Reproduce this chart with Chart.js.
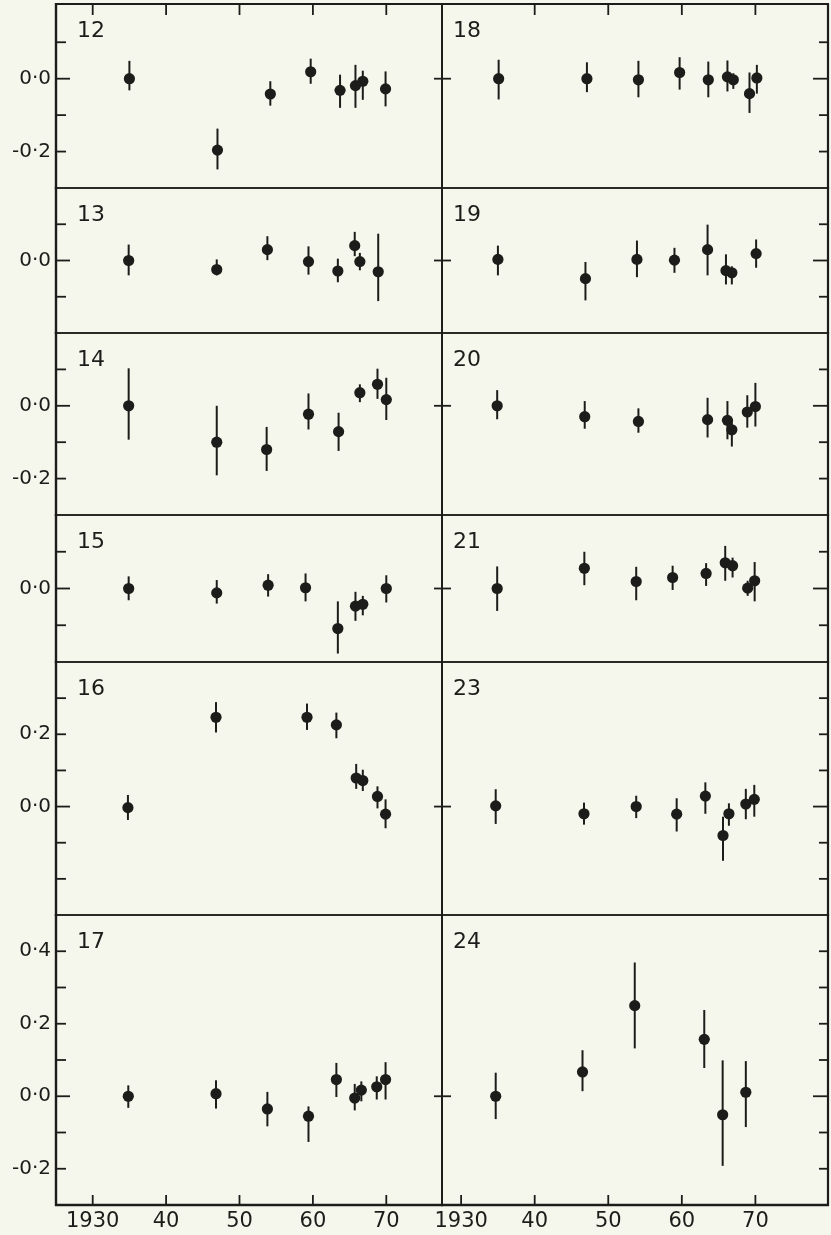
<!DOCTYPE html>
<html>
<head>
<meta charset="utf-8">
<script src="https://cdn.jsdelivr.net/npm/chart.js@4.4.1/dist/chart.umd.min.js"></script>
<style>
  html, body { margin: 0; padding: 0; background: #f6f7ec; }
  #fig { position: relative; width: 831px; height: 1235px; overflow: hidden; background: #f6f7ec; }
  #fig canvas { position: absolute; }
</style>
</head>
<body>
<div id="fig"></div>
<script>
// Epoch (year), offset and lower / upper error limit of each measurement, one set per line.
const yr12 = [1935.0, 1947.0, 1954.2, 1959.7, 1963.7, 1965.8, 1966.8, 1969.9];
const v12  = [0.000, -0.196, -0.042, 0.019, -0.032, -0.019, -0.007, -0.028];
const lo12 = [-0.032, -0.249, -0.074, -0.014, -0.080, -0.080, -0.058, -0.076];
const hi12 = [0.049, -0.137, -0.007, 0.055, 0.011, 0.038, 0.022, 0.020];

const yr13 = [1934.9, 1946.9, 1953.8, 1959.4, 1963.4, 1965.7, 1966.4, 1968.9];
const v13  = [0.000, -0.025, 0.030, -0.003, -0.029, 0.041, -0.003, -0.031];
const lo13 = [-0.041, -0.041, 0.001, -0.039, -0.060, 0.012, -0.027, -0.112];
const hi13 = [0.044, 0.003, 0.067, 0.039, 0.005, 0.079, 0.021, 0.074];

const yr14 = [1934.9, 1946.9, 1953.7, 1959.4, 1963.5, 1966.4, 1968.8, 1970.0];
const v14  = [0.000, -0.100, -0.120, -0.023, -0.071, 0.036, 0.059, 0.017];
const lo14 = [-0.093, -0.191, -0.179, -0.065, -0.124, 0.010, 0.019, -0.039];
const hi14 = [0.103, 0.000, -0.058, 0.034, -0.019, 0.059, 0.102, 0.077];

const yr15 = [1934.9, 1946.9, 1953.9, 1959.0, 1963.4, 1965.8, 1966.8, 1970.0];
const v15  = [0.000, -0.012, 0.009, 0.002, -0.109, -0.048, -0.043, 0.000];
const lo15 = [-0.032, -0.041, -0.022, -0.035, -0.177, -0.088, -0.073, -0.038];
const hi15 = [0.033, 0.023, 0.039, 0.041, -0.035, -0.009, -0.020, 0.036];

const yr16 = [1934.8, 1946.8, 1959.2, 1963.2, 1965.9, 1966.8, 1968.8, 1969.9];
const v16  = [-0.003, 0.247, 0.247, 0.226, 0.079, 0.072, 0.028, -0.021];
const lo16 = [-0.037, 0.205, 0.212, 0.189, 0.049, 0.043, -0.005, -0.060];
const hi16 = [0.032, 0.289, 0.285, 0.260, 0.118, 0.102, 0.056, 0.020];

const yr17 = [1934.85, 1946.8, 1953.8, 1959.4, 1963.2, 1965.7, 1966.6, 1968.7, 1969.9];
const v17  = [0.000, 0.007, -0.035, -0.055, 0.046, -0.005, 0.017, 0.026, 0.046];
const lo17 = [-0.032, -0.034, -0.083, -0.126, -0.002, -0.039, -0.014, -0.009, -0.009];
const hi17 = [0.030, 0.044, 0.012, -0.028, 0.092, 0.034, 0.041, 0.055, 0.094];

const yr18 = [1935.1, 1947.1, 1954.1, 1959.7, 1963.6, 1966.2, 1967.0, 1969.2, 1970.2];
const v18  = [0.000, 0.000, -0.003, 0.017, -0.003, 0.005, -0.003, -0.041, 0.002];
const lo18 = [-0.057, -0.037, -0.051, -0.030, -0.051, -0.035, -0.028, -0.094, -0.041];
const hi18 = [0.052, 0.045, 0.049, 0.059, 0.047, 0.050, 0.015, 0.017, 0.038];

const yr19 = [1935.0, 1946.9, 1953.9, 1959.0, 1963.5, 1966.0, 1966.8, 1970.1];
const v19  = [0.003, -0.050, 0.003, 0.001, 0.030, -0.028, -0.034, 0.019];
const lo19 = [-0.041, -0.110, -0.046, -0.034, -0.041, -0.066, -0.066, -0.020];
const hi19 = [0.041, -0.004, 0.055, 0.035, 0.099, 0.017, -0.016, 0.058];

const yr20 = [1934.9, 1946.8, 1954.1, 1963.5, 1966.2, 1966.8, 1968.9, 1970.0];
const v20  = [0.000, -0.030, -0.043, -0.038, -0.040, -0.066, -0.017, -0.002];
const lo20 = [-0.037, -0.063, -0.074, -0.087, -0.092, -0.112, -0.060, -0.057];
const hi20 = [0.043, 0.013, -0.007, 0.022, 0.013, -0.037, 0.029, 0.063];

const yr21 = [1934.9, 1946.75, 1953.8, 1958.75, 1963.3, 1965.9, 1966.9, 1968.95, 1969.9];
const v21  = [0.000, 0.055, 0.019, 0.030, 0.041, 0.070, 0.062, 0.001, 0.021];
const lo21 = [-0.061, 0.009, -0.032, -0.004, 0.007, 0.021, 0.030, -0.020, -0.035];
const hi21 = [0.060, 0.100, 0.059, 0.062, 0.069, 0.116, 0.084, 0.021, 0.072];

const yr23 = [1934.7, 1946.7, 1953.8, 1959.3, 1963.2, 1965.6, 1966.4, 1968.7, 1969.85];
const v23  = [0.002, -0.020, 0.000, -0.021, 0.029, -0.080, -0.020, 0.007, 0.020];
const lo23 = [-0.048, -0.050, -0.032, -0.069, -0.020, -0.150, -0.053, -0.035, -0.028];
const hi23 = [0.048, 0.011, 0.030, 0.023, 0.067, -0.028, 0.009, 0.049, 0.060];

const yr24 = [1934.7, 1946.5, 1953.6, 1963.05, 1965.55, 1968.7];
const v24  = [0.000, 0.067, 0.250, 0.157, -0.051, 0.011];
const lo24 = [-0.063, 0.014, 0.132, 0.078, -0.192, -0.085];
const hi24 = [0.065, 0.127, 0.369, 0.238, 0.099, 0.097];

// Axis ticks and ranges
const xTickYears = [1930, 1940, 1950, 1960, 1970];
const xTickText  = ['1930', '40', '50', '60', '70'];
const yTickValues = [-0.3, -0.2, -0.1, 0, 0.1, 0.2, 0.3, 0.4, 0.5];
const rowMin = [-0.3, -0.2, -0.3, -0.2, -0.3, -0.3];
const rowMax = [0.205, 0.2, 0.2, 0.2, 0.4, 0.5];
const rowLabelled = [[0, -0.2], [0], [0, -0.2], [0], [0.2, 0], [0.4, 0.2, 0, -0.2]];
const colMin = [1925, 1927.4];
const colMax = [1977.59, 1979.87];

// Page layout (pixels): horizontal panel edges and column edges
const rowEdge = [4, 188, 333, 515, 662, 915, 1205];
const colEdge = [56, 442, 828];
const M = 20;          // spare canvas margin around each plot area
const AXIS_H = 30;     // height kept for the year labels under the bottom row

const ink = '#1c1c1a';
const fontFamily = '"DejaVu Sans", sans-serif';

const panels = [
  { id: '12', col: 0, row: 0, yr: yr12, v: v12, lo: lo12, hi: hi12 },
  { id: '13', col: 0, row: 1, yr: yr13, v: v13, lo: lo13, hi: hi13 },
  { id: '14', col: 0, row: 2, yr: yr14, v: v14, lo: lo14, hi: hi14 },
  { id: '15', col: 0, row: 3, yr: yr15, v: v15, lo: lo15, hi: hi15 },
  { id: '16', col: 0, row: 4, yr: yr16, v: v16, lo: lo16, hi: hi16 },
  { id: '17', col: 0, row: 5, yr: yr17, v: v17, lo: lo17, hi: hi17 },
  { id: '18', col: 1, row: 0, yr: yr18, v: v18, lo: lo18, hi: hi18 },
  { id: '19', col: 1, row: 1, yr: yr19, v: v19, lo: lo19, hi: hi19 },
  { id: '20', col: 1, row: 2, yr: yr20, v: v20, lo: lo20, hi: hi20 },
  { id: '21', col: 1, row: 3, yr: yr21, v: v21, lo: lo21, hi: hi21 },
  { id: '23', col: 1, row: 4, yr: yr23, v: v23, lo: lo23, hi: hi23 },
  { id: '24', col: 1, row: 5, yr: yr24, v: v24, lo: lo24, hi: hi24 }
];

function fmtTick(v) {
  const s = Math.abs(v).toFixed(1).replace('.', '\u00B7');
  return (v < -1e-9 ? '-' : '') + s;
}

// Frame, inward tick marks, error bars and the panel number
function framePlugin(p) {
  const min = rowMin[p.row], max = rowMax[p.row];
  const inner = yTickValues.filter(v => v > min + 0.01 && v < max - 0.01);
  return {
    id: 'frame' + p.id,
    beforeDatasetsDraw(chart) {
      const { ctx, chartArea: a, scales: { x, y } } = chart;
      ctx.save();
      ctx.strokeStyle = ink;
      ctx.lineCap = 'butt';
      const line = (x1, y1, x2, y2, w) => {
        ctx.lineWidth = w;
        ctx.beginPath();
        ctx.moveTo(x1, y1);
        ctx.lineTo(x2, y2);
        ctx.stroke();
      };
      const outerL = p.col === 0, outerR = p.col === 1;
      const outerT = p.row === 0, outerB = p.row === 5;
      line(a.left, a.top - 1, a.left, a.bottom + 1, outerL ? 2.4 : 1.8);
      line(a.right, a.top - 1, a.right, a.bottom + 1, outerR ? 2.2 : 1.8);
      line(a.left - 1, a.top, a.right + 1, a.top, outerT ? 2.2 : 1.6);
      line(a.left - 1, a.bottom, a.right + 1, a.bottom, outerB ? 2.4 : 1.6);

      inner.forEach(v => {
        const py = y.getPixelForValue(v);
        const zero = Math.abs(v) < 1e-9;
        if (p.col === 0) {
          line(a.left, py, a.left + (zero ? 14 : 10), py, 1.8);
          if (zero) line(a.right - 8, py, a.right, py, 1.8);
        } else {
          line(a.right - (zero ? 15 : 9), py, a.right, py, 1.8);
          if (zero) line(a.left, py, a.left + 9, py, 1.8);
        }
      });

      if (outerT || outerB) {
        xTickYears.forEach(t => {
          const px = x.getPixelForValue(t);
          if (outerT && !(p.col === 1 && t === xTickYears[0])) line(px, a.top, px, a.top + 11, 1.8);
          if (outerB) line(px, a.bottom, px, a.bottom - 10, 1.8);
        });
      }

      p.yr.forEach((t, i) => {
        const px = x.getPixelForValue(t);
        line(px, y.getPixelForValue(p.hi[i]), px, y.getPixelForValue(p.lo[i]), 2);
      });
      ctx.restore();
    },
    afterDraw(chart) {
      const { ctx, chartArea: a } = chart;
      ctx.save();
      ctx.fillStyle = ink;
      ctx.font = '22px ' + fontFamily;
      ctx.textAlign = 'left';
      ctx.textBaseline = 'alphabetic';
      ctx.fillText(p.id, a.left + (p.col === 0 ? 21 : 11), a.top + 33);
      ctx.restore();
    }
  };
}

const fig = document.getElementById('fig');

panels.forEach(p => {
  const plotL = colEdge[p.col], plotR = colEdge[p.col + 1];
  const plotT = rowEdge[p.row], plotB = rowEdge[p.row + 1];
  const bottomRow = p.row === 5;
  const leftCol = p.col === 0;

  const left = leftCol ? 0 : plotL - M;
  const top = plotT - M;
  const width = leftCol ? plotR + M : (plotR - plotL) + 2 * M;
  const height = (plotB - plotT) + M + (bottomRow ? AXIS_H : M);

  const canvas = document.createElement('canvas');
  canvas.width = width;
  canvas.height = height;
  canvas.style.left = left + 'px';
  canvas.style.top = top + 'px';
  canvas.style.width = width + 'px';
  canvas.style.height = height + 'px';
  fig.appendChild(canvas);

  const labelled = rowLabelled[p.row];

  new Chart(canvas, {
    type: 'scatter',
    data: {
      datasets: [{
        data: p.yr.map((t, i) => ({ x: t, y: p.v[i] })),
        pointRadius: 5.6,
        pointHoverRadius: 5.6,
        pointBackgroundColor: ink,
        pointBorderWidth: 0,
        clip: false
      }]
    },
    options: {
      responsive: false,
      maintainAspectRatio: false,
      devicePixelRatio: 1,
      animation: false,
      events: [],
      layout: {
        padding: {
          left: leftCol ? 0 : M,
          right: M,
          top: M,
          bottom: bottomRow ? 0 : M
        }
      },
      plugins: { legend: { display: false }, tooltip: { enabled: false }, title: { display: false } },
      scales: {
        x: {
          type: 'linear',
          min: colMin[p.col],
          max: colMax[p.col],
          display: bottomRow,
          afterBuildTicks: s => { s.ticks = xTickYears.map(v => ({ value: v })); },
          afterFit: s => { s.height = bottomRow ? AXIS_H : 0; },
          grid: { display: false, drawTicks: false },
          border: { display: false },
          ticks: {
            color: ink,
            font: { family: fontFamily, size: 21 },
            padding: 4,
            maxRotation: 0,
            autoSkip: false,
            callback: (v, i) => xTickText[i]
          }
        },
        y: {
          type: 'linear',
          min: rowMin[p.row],
          max: rowMax[p.row],
          display: leftCol,
          afterBuildTicks: s => {
            s.ticks = yTickValues
              .filter(v => v >= rowMin[p.row] - 1e-9 && v <= rowMax[p.row] + 1e-9)
              .map(v => ({ value: v }));
          },
          afterFit: s => { s.width = leftCol ? colEdge[0] : 0; },
          grid: { display: false, drawTicks: false },
          border: { display: false },
          ticks: {
            color: ink,
            font: { family: fontFamily, size: 20 },
            padding: 5,
            autoSkip: false,
            callback: v => labelled.some(l => Math.abs(l - v) < 1e-6) ? fmtTick(v) : ''
          }
        }
      }
    },
    plugins: [framePlugin(p)]
  });
});
</script>
</body>
</html>
